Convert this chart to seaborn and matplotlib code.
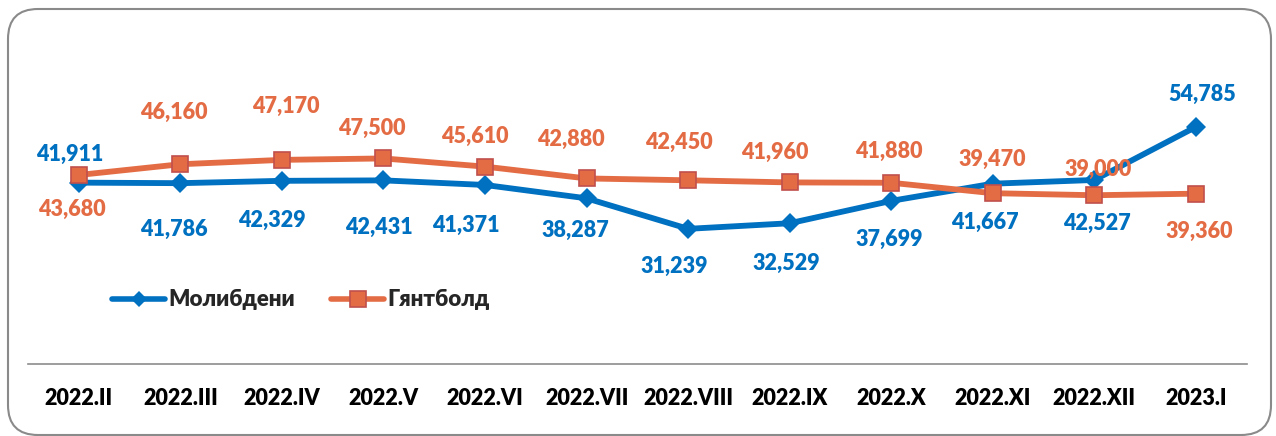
import matplotlib
matplotlib.use("Agg")
import matplotlib.pyplot as plt
import seaborn as sns
import pandas as pd
from matplotlib.lines import Line2D
from matplotlib.patches import FancyBboxPatch
from matplotlib.transforms import IdentityTransform

periods = ["2022.II", "2022.III", "2022.IV", "2022.V", "2022.VI", "2022.VII",
           "2022.VIII", "2022.IX", "2022.X", "2022.XI", "2022.XII", "2023.I"]
molybdenum = [41911, 41786, 42329, 42431, 41371, 38287, 31239, 32529, 37699, 41667, 42527, 54785]
gyantbold = [43680, 46160, 47170, 47500, 45610, 42880, 42450, 41960, 41880, 39470, 39000, 39360]
series_names = ["Молибдени", "Гянтболд"]

# label offsets in pixels (dx, dy) - placed by hand in the source chart
moly_offsets = [(-9, 28), (-7, -46), (-10, -40), (-5, -47), (-19, -40), (-11, -32),
                (-14, -38), (-3, -40), (-2, -39), (-8, -39), (3, -43), (6, 32)]
gyant_offsets = [(-7, -34), (-7, 52), (4, 53), (-12, 30), (-10, 30), (-16, 39),
                 (-9, 38), (-15, 30), (-2, 31), (-1, 34), (4, 26), (3, -38)]

sns.set_style("white")
plt.rcParams["font.family"] = ["Lato", "Open Sans", "DejaVu Sans"]

BLUE = "#0070C0"
ORANGE = "#E46C44"
EDGE = "#C0504D"

df = pd.DataFrame({"pos": range(len(periods)), "period": periods,
                   "moly": molybdenum, "gyant": gyantbold})

fig = plt.figure(figsize=(12.76, 4.36), dpi=100)
ax = fig.add_axes([0.022, 0.165, 0.955, 0.695])

sns.lineplot(data=df, x="pos", y="moly", ax=ax, color=BLUE, lw=4.2,
             marker="D", ms=10, mec=BLUE, mew=0)
sns.lineplot(data=df, x="pos", y="gyant", ax=ax, color=ORANGE, lw=4.2,
             marker="s", ms=11, mec=EDGE, mew=1.2)

for i, (v, (dx, dy)) in enumerate(zip(molybdenum, moly_offsets)):
    ax.annotate(f"{v:,}", (i, v), xytext=(dx, dy), textcoords="offset pixels",
                ha="center", va="center", color=BLUE, fontsize=15.5, fontweight="heavy")
for i, (v, (dx, dy)) in enumerate(zip(gyantbold, gyant_offsets)):
    ax.annotate(f"{v:,}", (i, v), xytext=(dx, dy), textcoords="offset pixels",
                ha="center", va="center", color=ORANGE, fontsize=15.5, fontweight="heavy")

ax.set_xlim(-0.5, 11.5)
ax.set_ylim(0, 70000)
ax.set_xticks(range(len(periods)))
ax.set_xticklabels(periods, fontsize=15.5, fontweight="heavy")
ax.tick_params(axis="x", length=0, pad=17, colors="black")
ax.set_yticks([])
ax.set_xlabel("")
ax.set_ylabel("")
for s in ["top", "left", "right"]:
    ax.spines[s].set_visible(False)
ax.spines["bottom"].set_color("#8c8c8c")
ax.spines["bottom"].set_linewidth(1.2)

handles = [Line2D([], [], color=BLUE, lw=4, marker="D", ms=8, mew=0),
           Line2D([], [], color=ORANGE, lw=4, marker="s", ms=12, mec=EDGE, mew=1.2)]
fig.legend(handles, series_names, loc="center left",
           bbox_to_anchor=(112 / 1276, 1 - 300 / 436), ncol=2, frameon=False,
           handlelength=2.4, handletextpad=0.15, columnspacing=1.6,
           prop=dict(size=16, weight="heavy"), borderpad=0, borderaxespad=0)

border = FancyBboxPatch((8, 1), 1263, 426, boxstyle="round,pad=0,rounding_size=30",
                        transform=IdentityTransform(), fc="none", ec="#8a8a8a", lw=1.5)
fig.add_artist(border)

fig.savefig("out.png", dpi=100)
plt.close(fig)
